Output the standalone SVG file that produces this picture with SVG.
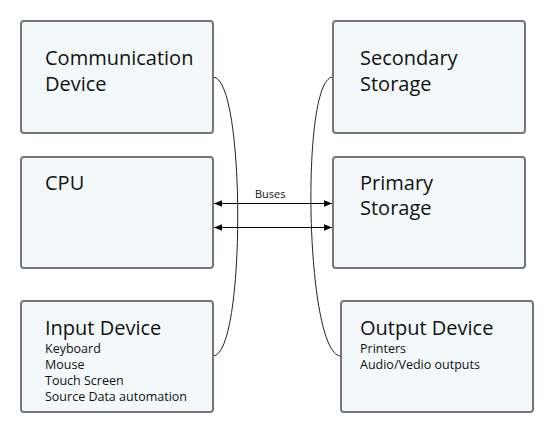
<svg xmlns="http://www.w3.org/2000/svg" width="556" height="438" viewBox="0 0 556 438">
<style>
.box{fill:#f3f9fa;stroke:#767676;stroke-width:2}
.t{font-family:"Open Sans","Noto Sans",sans-serif;font-size:20px;fill:#111}
.s{font-family:"Open Sans","Noto Sans",sans-serif;font-size:12.5px;fill:#111}
.lbl{font-family:"Open Sans","Noto Sans",sans-serif;font-size:11px;fill:#111}
.c{fill:none;stroke:#222;stroke-width:1}
.a{fill:none;stroke:#000;stroke-width:1.2;marker-start:url(#ah);marker-end:url(#ah)}
</style>
<defs>
<marker id="ah" viewBox="0 0 8 8" refX="8" refY="4" markerWidth="8" markerHeight="8" markerUnits="userSpaceOnUse" orient="auto-start-reverse">
<path d="M0,0.8 L8,4 L0,7.2 z" fill="#000"/>
</marker>
</defs>
<rect width="556" height="438" fill="#fff"/>
<g id="connectors">
<path class="c" d="M213,77 C246,77 246,356 213,356"/>
<path class="c" d="M333,77 C300,77 305,356 341,356"/>
<line class="a" x1="214" y1="203.5" x2="332" y2="203.5"/>
<line class="a" x1="214" y1="227.5" x2="332" y2="227.5"/>
<text class="lbl" x="255" y="198">Buses</text>
</g>
<g id="communication-device">
<rect class="box" x="21" y="21" width="192" height="112" rx="3"/>
<text class="t" x="45" y="65">Communication</text>
<text class="t" x="45" y="91">Device</text>
</g>
<g id="secondary-storage">
<rect class="box" x="333" y="21" width="192" height="112" rx="3"/>
<text class="t" x="360" y="65">Secondary</text>
<text class="t" x="360" y="91">Storage</text>
</g>
<g id="cpu">
<rect class="box" x="21" y="157" width="192" height="111" rx="3"/>
<text class="t" x="45" y="190">CPU</text>
</g>
<g id="primary-storage">
<rect class="box" x="333" y="157" width="192" height="111" rx="3"/>
<text class="t" x="360" y="190">Primary</text>
<text class="t" x="360" y="215">Storage</text>
</g>
<g id="input-device">
<rect class="box" x="21" y="301" width="192" height="111" rx="3"/>
<text class="t" x="45" y="335">Input Device</text>
<text class="s" x="45" y="353">Keyboard</text>
<text class="s" x="45" y="369">Mouse</text>
<text class="s" x="45" y="385">Touch Screen</text>
<text class="s" x="45" y="401">Source Data automation</text>
</g>
<g id="output-device">
<rect class="box" x="341" y="301" width="192" height="111" rx="3"/>
<text class="t" x="360" y="335">Output Device</text>
<text class="s" x="360" y="353">Printers</text>
<text class="s" x="360" y="369">Audio/Vedio outputs</text>
</g>
</svg>
